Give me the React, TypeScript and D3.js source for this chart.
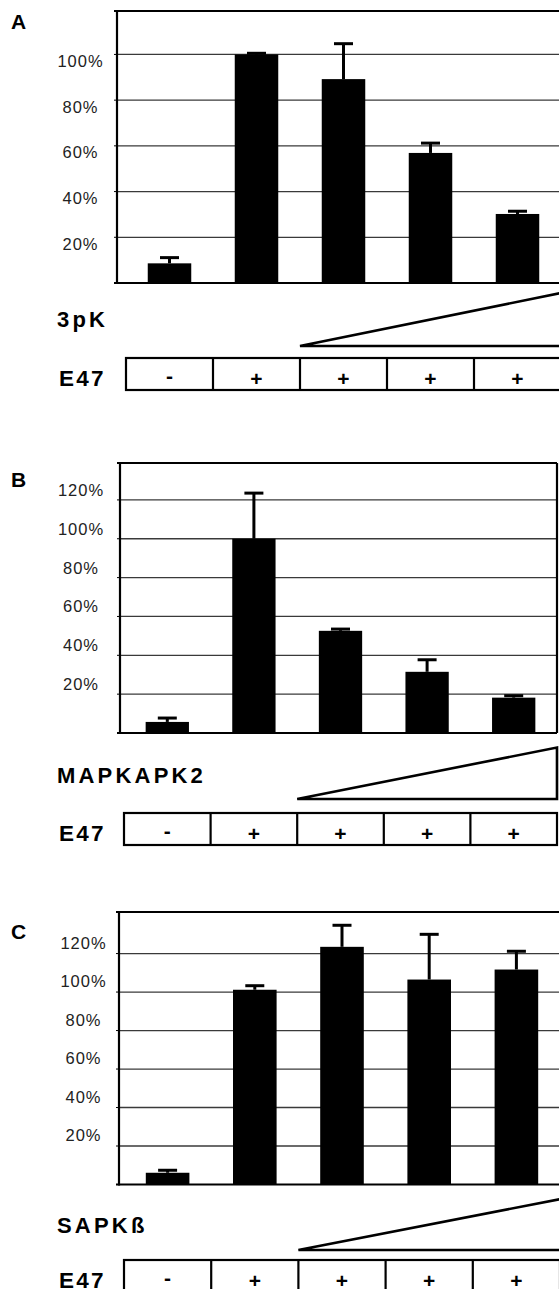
import React from "react";
import * as d3 from "d3";

// lanes along the x axis, and the E47 row under them
const lanes = ["lane1", "lane2", "lane3", "lane4", "lane5"];
const e47Signs = ["-", "+", "+", "+", "+"];

// panel A: 3pK
const kinaseA = "3pK";
const valuesA = [8.6, 100, 89.2, 56.9, 30.2];
const errorsA = [2.5, 0.5, 15.5, 4.3, 1.2];
const ticksA = [20, 40, 60, 80, 100];

// panel B: MAPKAPK2
const kinaseB = "MAPKAPK2";
const valuesB = [5.7, 100, 52.6, 31.5, 18.2];
const errorsB = [2, 23.5, 0.9, 6.2, 1];
const ticksB = [20, 40, 60, 80, 100, 120];

// panel C: SAPKß
const kinaseC = "SAPKß";
const valuesC = [6.1, 101.2, 123.5, 106.5, 111.7];
const errorsC = [1.3, 2.1, 11.2, 23.5, 9.5];
const ticksC = [20, 40, 60, 80, 100, 120];

const FONT = '"Liberation Sans", Arial, Helvetica, sans-serif';

type Layout = {
  plotLeft: number;
  plotRight: number;
  rightBorder: boolean;
  x0: number;
  x1: number;
  axisY: number;
  topY: number;
  yMax: number;
  tickX: number;
  tickDy: number;
  letterY: number;
  kinaseY: number;
  triBase: number;
  triTop: number;
  triRight: number;
  boxTop: number;
};

const layoutA: Layout = {
  plotLeft: 117, plotRight: 562, rightBorder: false,
  x0: 126, x1: 561, axisY: 283, topY: 11, yMax: 119,
  tickX: 80.5, tickDy: 12.5, letterY: 29, kinaseY: 327,
  triBase: 346, triTop: 293, triRight: 561, boxTop: 358,
};
const layoutB: Layout = {
  plotLeft: 120, plotRight: 557, rightBorder: true,
  x0: 124, x1: 557, axisY: 733, topY: 463, yMax: 139,
  tickX: 81, tickDy: -4, letterY: 487, kinaseY: 783,
  triBase: 799, triTop: 747.5, triRight: 557, boxTop: 813,
};
const layoutC: Layout = {
  plotLeft: 119, plotRight: 562, rightBorder: false,
  x0: 124, x1: 560, axisY: 1184.5, topY: 912, yMax: 141.6,
  tickX: 83.5, tickDy: -5, letterY: 939, kinaseY: 1233,
  triBase: 1250, triTop: 1199, triRight: 561, boxTop: 1260,
};

function Panel({
  letter,
  kinase,
  values,
  errors,
  ticks,
  layout,
}: {
  letter: string;
  kinase: string;
  values: number[];
  errors: number[];
  ticks: number[];
  layout: Layout;
}) {
  const L = layout;
  const x = d3
    .scaleBand<string>()
    .domain(lanes)
    .range([L.x0, L.x1])
    .paddingInner(0.5)
    .paddingOuter(0.25);
  const y = d3.scaleLinear().domain([0, L.yMax]).range([L.axisY, L.topY]);
  const step = x.step();
  const bw = x.bandwidth();
  const boxH = 32;
  const tipX = L.x0 + 2 * step;

  return (
    <g>
      {/* gridlines */}
      {ticks.map((t) => (
        <line
          key={"g" + t}
          x1={L.plotLeft}
          x2={L.plotRight}
          y1={y(t)}
          y2={y(t)}
          stroke="#3a3a3a"
          strokeWidth={1.3}
        />
      ))}
      {/* tick labels */}
      {ticks.map((t) => (
        <text
          key={"t" + t}
          x={L.tickX}
          y={y(t) + L.tickDy}
          textAnchor="middle"
          fontFamily={FONT}
          fontSize={16.5}
          letterSpacing={1}
          fill="#222"
        >
          {t + "%"}
        </text>
      ))}
      {/* small ticks on the left axis */}
      {[0, ...ticks].map((t) => (
        <line
          key={"k" + t}
          x1={L.plotLeft - 3}
          x2={L.plotLeft}
          y1={y(t)}
          y2={y(t)}
          stroke="#000"
          strokeWidth={1}
        />
      ))}
      {/* bars */}
      {values.map((v, i) => (
        <rect
          key={"b" + i}
          x={x(lanes[i])}
          y={y(v)}
          width={bw}
          height={L.axisY - y(v)}
          fill="#000"
        />
      ))}
      {/* error bars */}
      {values.map((v, i) => {
        const cx = (x(lanes[i]) as number) + bw / 2;
        const top = y(v + errors[i]);
        return (
          <g key={"e" + i} stroke="#000" strokeWidth={3}>
            <line x1={cx} x2={cx} y1={y(v)} y2={top} />
            <line x1={cx - 9.5} x2={cx + 9.5} y1={top} y2={top} />
          </g>
        );
      })}
      {/* frame */}
      <line x1={L.plotLeft} x2={L.plotLeft} y1={L.topY} y2={L.axisY + 1} stroke="#000" strokeWidth={2.2} />
      <line x1={L.plotLeft - 3} x2={L.plotRight} y1={L.topY} y2={L.topY} stroke="#000" strokeWidth={2.2} />
      <line x1={L.plotLeft - 3} x2={L.plotRight} y1={L.axisY} y2={L.axisY} stroke="#000" strokeWidth={2.2} />
      {L.rightBorder && (
        <line x1={L.plotRight} x2={L.plotRight} y1={L.topY} y2={L.axisY} stroke="#000" strokeWidth={2.2} />
      )}
      {/* panel letter */}
      <text x={11} y={L.letterY} fontFamily={FONT} fontSize={21} fontWeight="bold" fill="#000">
        {letter}
      </text>
      {/* kinase label and increasing-dose wedge */}
      <text x={57} y={L.kinaseY} fontFamily={FONT} fontSize={22} fontWeight="bold" letterSpacing={3.2} fill="#000">
        {kinase}
      </text>
      <polygon
        points={`${tipX},${L.triBase} ${L.triRight},${L.triTop} ${L.triRight},${L.triBase}`}
        fill="none"
        stroke="#000"
        strokeWidth={2.6}
        strokeLinejoin="miter"
      />
      {/* E47 row */}
      <text x={59} y={L.boxTop + 28} fontFamily={FONT} fontSize={22.5} fontWeight="bold" letterSpacing={2.3} fill="#000">
        E47
      </text>
      <rect x={L.x0} y={L.boxTop} width={L.x1 - L.x0} height={boxH} fill="none" stroke="#000" strokeWidth={2.2} />
      {lanes.slice(1).map((_, i) => (
        <line
          key={"d" + i}
          x1={L.x0 + (i + 1) * step}
          x2={L.x0 + (i + 1) * step}
          y1={L.boxTop}
          y2={L.boxTop + boxH}
          stroke="#000"
          strokeWidth={2.2}
        />
      ))}
      {e47Signs.map((s, i) => (
        <text
          key={"s" + i}
          x={L.x0 + (i + 0.5) * step}
          y={L.boxTop + (s === "-" ? 25 : 28)}
          textAnchor="middle"
          fontFamily={FONT}
          fontSize={21}
          fontWeight="bold"
          fill="#000"
        >
          {s}
        </text>
      ))}
    </g>
  );
}

export default function App() {
  return (
    <svg
      width={559}
      height={1289}
      style={{ position: "absolute", left: 0, top: 0, background: "#fff" }}
    >
      <rect width={559} height={1289} fill="#fff" />
      <Panel letter="A" kinase={kinaseA} values={valuesA} errors={errorsA} ticks={ticksA} layout={layoutA} />
      <Panel letter="B" kinase={kinaseB} values={valuesB} errors={errorsB} ticks={ticksB} layout={layoutB} />
      <Panel letter="C" kinase={kinaseC} values={valuesC} errors={errorsC} ticks={ticksC} layout={layoutC} />
    </svg>
  );
}
